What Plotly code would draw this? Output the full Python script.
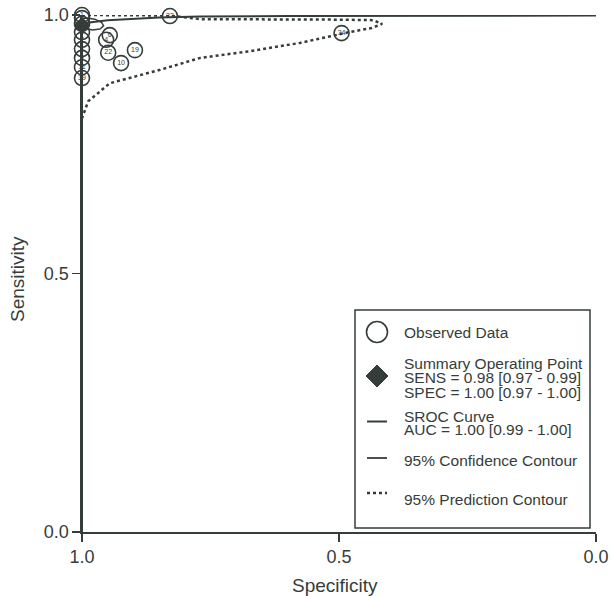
import plotly.graph_objects as go

# ---------------- data ----------------
study_labels = ["1", "2", "3", "5", "7", "8", "9", "11", "39", "6", "4", "22", "10", "19", "33", "34"]
obs_spec = [1.00, 1.00, 1.00, 1.00, 1.00, 1.00, 1.00, 1.00, 1.00, 0.946, 0.953, 0.949, 0.924, 0.897, 0.829, 0.495]
obs_sens = [1.00, 0.994, 0.983, 0.967, 0.952, 0.934, 0.917, 0.899, 0.878, 0.961, 0.952, 0.927, 0.907, 0.932, 0.998, 0.965]

summary_spec = [1.00]
summary_sens = [0.98]

sroc_spec = [1.0, 1.0, 0.99, 0.95, 0.85, 0.77, 0.6, 0.4, 0.2, 0.0]
sroc_sens = [0.0, 0.98, 0.985, 0.99, 0.995, 0.997, 0.998, 0.998, 0.999, 0.999]

conf_spec = [1.0, 0.99, 0.975, 0.962, 0.958, 0.965, 0.98, 0.995, 1.0]
conf_sens = [0.993, 0.994, 0.992, 0.986, 0.979, 0.973, 0.971, 0.975, 0.98]

pred_spec = [1.0, 0.98, 0.90, 0.83, 0.77, 0.68, 0.576, 0.50, 0.434, 0.416, 0.436, 0.479,
             0.576, 0.673, 0.770, 0.848, 0.946, 0.988, 1.0]
pred_sens = [1.0, 1.0, 1.0, 0.999, 0.992, 0.992, 0.992, 0.991, 0.990, 0.983, 0.975, 0.967,
             0.946, 0.930, 0.917, 0.894, 0.868, 0.833, 0.80]

tick_vals = [0.0, 0.5, 1.0]
tick_text = ["0.0", "0.5", "1.0"]

x_title = "Specificity"
y_title = "Sensitivity"

legend_lines = [
    "Observed Data",
    "Summary Operating Point",
    "SENS = 0.98 [0.97 - 0.99]",
    "SPEC = 1.00 [0.97 - 1.00]",
    "SROC Curve",
    "AUC = 1.00 [0.99 - 1.00]",
    "95% Confidence Contour",
    "95% Prediction Contour",
]

# ---------------- style ----------------
INK = "#353d3b"
FONT = "Liberation Sans, Arial, sans-serif"

fig = go.Figure()

fig.add_trace(go.Scatter(x=sroc_spec, y=sroc_sens, mode="lines",
                         line=dict(color=INK, width=2), cliponaxis=False,
                         showlegend=False, hoverinfo="skip"))
fig.add_trace(go.Scatter(x=pred_spec, y=pred_sens, mode="lines",
                         line=dict(color=INK, width=2.5, dash="dot"), cliponaxis=False,
                         showlegend=False, hoverinfo="skip"))
fig.add_trace(go.Scatter(x=conf_spec, y=conf_sens, mode="lines",
                         line=dict(color=INK, width=1.5), cliponaxis=False,
                         showlegend=False, hoverinfo="skip"))
fig.add_trace(go.Scatter(x=obs_spec, y=obs_sens, mode="markers+text",
                         text=study_labels, textposition="middle center",
                         textfont=dict(family=FONT, size=7, color=INK),
                         marker=dict(symbol="circle-open", size=15, color=INK,
                                     line=dict(width=1.6, color=INK)),
                         cliponaxis=False, showlegend=False))
fig.add_trace(go.Scatter(x=summary_spec, y=summary_sens, mode="markers",
                         marker=dict(symbol="diamond", size=13, color=INK),
                         cliponaxis=False, showlegend=False))

# ---------------- manual legend (page pixel -> paper) ----------------
def px_x(p):
    return (p - 82) / 514.0

def px_y(p):
    return (532 - p) / 517.0

shapes = []
shapes.append(dict(type="rect", xref="paper", yref="paper",
                   x0=px_x(355), x1=px_x(590), y0=px_y(528), y1=px_y(310),
                   line=dict(color=INK, width=1.5), fillcolor="white", layer="above"))
shapes.append(dict(type="circle", xref="paper", yref="paper",
                   x0=px_x(366.5), x1=px_x(387.5), y0=px_y(342.5), y1=px_y(321.5),
                   line=dict(color=INK, width=1.6), layer="above"))
cx, cy = 377, 376
d = 11
shapes.append(dict(type="path", xref="paper", yref="paper",
                   path=(f"M {px_x(cx)},{px_y(cy - d)} L {px_x(cx + d)},{px_y(cy)} "
                         f"L {px_x(cx)},{px_y(cy + d)} L {px_x(cx - d)},{px_y(cy)} Z"),
                   fillcolor=INK, line=dict(color=INK, width=1), layer="above"))
shapes.append(dict(type="line", xref="paper", yref="paper",
                   x0=px_x(367), x1=px_x(387), y0=px_y(421.5), y1=px_y(421.5),
                   line=dict(color=INK, width=2), layer="above"))
shapes.append(dict(type="line", xref="paper", yref="paper",
                   x0=px_x(367), x1=px_x(387), y0=px_y(458), y1=px_y(458),
                   line=dict(color=INK, width=1.8), layer="above"))
shapes.append(dict(type="line", xref="paper", yref="paper",
                   x0=px_x(367), x1=px_x(387), y0=px_y(493), y1=px_y(493),
                   line=dict(color=INK, width=2.5, dash="dot"), layer="above"))

line_y_px = [331.7, 362.7, 376.7, 391.0, 415.0, 428.3, 459.0, 498.3]
annotations = []
for txt, yp in zip(legend_lines, line_y_px):
    annotations.append(dict(text=txt, xref="paper", yref="paper",
                            x=px_x(402), y=px_y(yp + 1), xanchor="left", yanchor="middle",
                            showarrow=False, font=dict(family=FONT, size=15.5, color=INK)))

annotations.append(dict(text=x_title, xref="paper", yref="paper",
                        x=px_x(335), y=px_y(586), xanchor="center", yanchor="middle",
                        showarrow=False, font=dict(family=FONT, size=19, color=INK)))
annotations.append(dict(text=y_title, xref="paper", yref="paper",
                        x=px_x(17), y=px_y(279), xanchor="center", yanchor="middle",
                        textangle=-90, showarrow=False,
                        font=dict(family=FONT, size=19, color=INK)))

fig.update_layout(
    width=612, height=596,
    margin=dict(l=82, r=16, t=15, b=64, autoexpand=False),
    paper_bgcolor="white", plot_bgcolor="white",
    font=dict(family=FONT, color=INK),
    shapes=shapes, annotations=annotations,
    showlegend=False,
)
fig.update_xaxes(range=[1, 0], tickvals=tick_vals, ticktext=tick_text, automargin=False,
                 ticklabeloverflow="allow",
                 showgrid=False, zeroline=False, showline=True, linecolor=INK, linewidth=1.6,
                 ticks="outside", ticklen=8, tickwidth=1.6, tickcolor=INK,
                 tickfont=dict(family=FONT, size=18, color=INK))
fig.update_yaxes(range=[0, 1], tickvals=tick_vals, ticktext=tick_text, automargin=False,
                 ticklabeloverflow="allow",
                 showgrid=False, zeroline=False, showline=True, linecolor=INK, linewidth=1.6,
                 ticks="outside", ticklen=8, tickwidth=1.6, tickcolor=INK,
                 tickfont=dict(family=FONT, size=18, color=INK))

# remove the default 8px page margin so the 612x596 figure fills the window
fig.write_html("out.html",
               config={"displayModeBar": False, "staticPlot": True},
               post_script="document.body.style.margin='0';document.body.style.overflow='hidden';")
